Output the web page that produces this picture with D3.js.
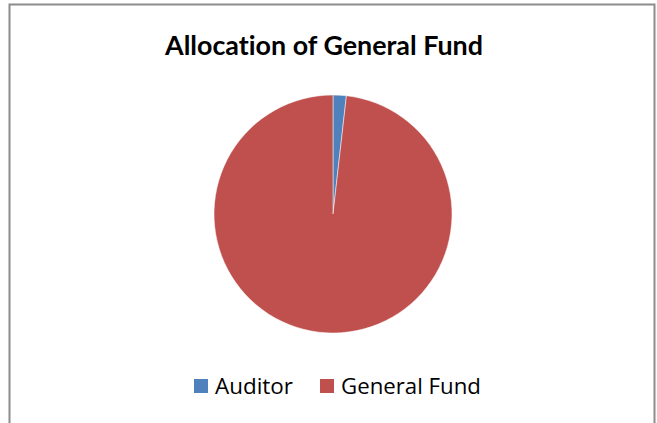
<!DOCTYPE html>
<html>
<head>
<meta charset="utf-8">
<script src="https://cdn.jsdelivr.net/npm/d3@7"></script>
<style>
  html, body { margin: 0; padding: 0; background: #fff; }
  svg { display: block; }
  text { font-variant-ligatures: none; }
</style>
</head>
<body>
<svg id="chart" width="657" height="423"></svg>
<script>
// Fund allocation shares (percent)
const categories = ["Auditor", "General Fund"];
const values = [1.8, 98.2];
const colors = ["#4F81BD", "#C0504D"];
const title = "Allocation of General Fund";

const svg = d3.select("#chart");
const W = 657, H = 423;

// scale a text's font size so it spans the given width
function fitWidth(sel, target) {
  const size = +sel.attr("font-size");
  const w = sel.node().getComputedTextLength();
  if (w > 0) sel.attr("font-size", (size * target / w).toFixed(2));
  return sel;
}

// chart area frame
svg.append("rect")
  .attr("x", 9.5).attr("y", 4.5)
  .attr("width", 645).attr("height", H + 10)
  .attr("fill", "#fff")
  .attr("stroke", "#8c8c8c")
  .attr("stroke-width", 2);

// title
const t = svg.append("text")
  .attr("x", 324).attr("y", 55)
  .attr("text-anchor", "middle")
  .attr("font-family", "Lato, 'Open Sans', sans-serif")
  .attr("font-weight", "bold")
  .attr("font-size", 25)
  .attr("fill", "#000")
  .text(title);
fitWidth(t, 318);

// pie
const cx = 333, cy = 214, r = 119;
const pie = d3.pie().sort(null).value(d => d.v);
const arc = d3.arc().innerRadius(0).outerRadius(r);
const data = categories.map((c, i) => ({ c, v: values[i], color: colors[i] }));

svg.append("g")
  .attr("transform", `translate(${cx},${cy})`)
  .selectAll("path")
  .data(pie(data))
  .join("path")
  .attr("d", arc)
  .attr("fill", d => d.data.color)
  .attr("stroke", "#fff")
  .attr("stroke-width", 0.5);

// legend
const legendX = [194, 320];
const legendW = [78, 140];
const lg = svg.append("g");
data.forEach((d, i) => {
  lg.append("rect")
    .attr("x", legendX[i]).attr("y", 379)
    .attr("width", 14).attr("height", 14)
    .attr("fill", d.color);
  const lt = lg.append("text")
    .attr("x", legendX[i] + 21).attr("y", 394)
    .attr("font-family", "'Open Sans', Lato, sans-serif")
    .attr("font-size", 20)
    .attr("fill", "#000")
    .text(d.c);
  fitWidth(lt, legendW[i]);
});
</script>
</body>
</html>
